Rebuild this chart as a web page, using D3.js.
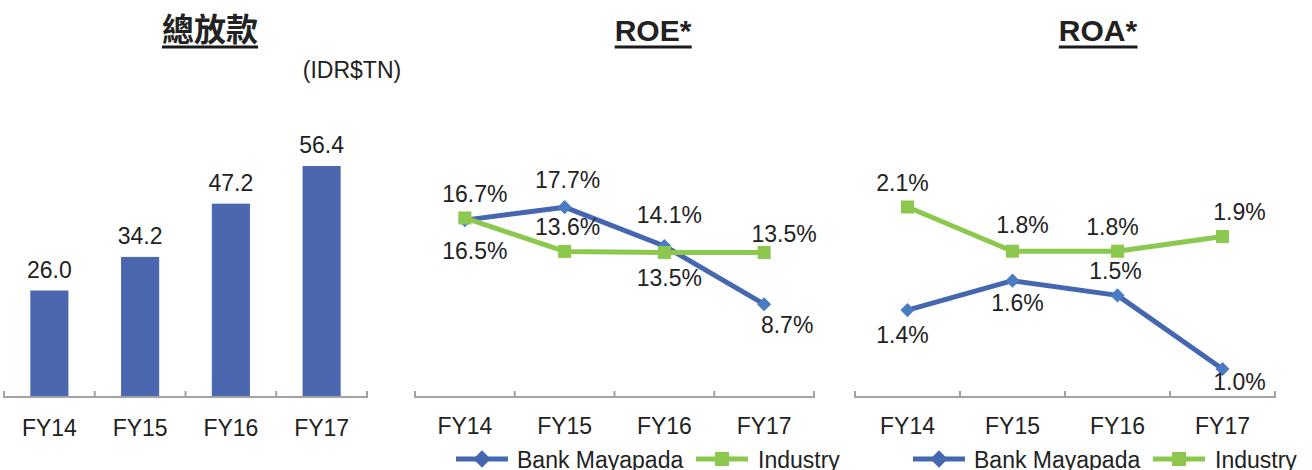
<!DOCTYPE html>
<html>
<head>
<meta charset="utf-8">
<script src="https://cdn.jsdelivr.net/npm/d3@7"></script>
<style>
  html, body { margin: 0; padding: 0; background: #ffffff; }
  svg { display: block; }
  text { font-family: "Liberation Sans", Arial, sans-serif; fill: #222222; }
</style>
</head>
<body>
<svg id="chart" width="1312" height="470"></svg>
<script>
// ---- data ----
const years = ["FY14", "FY15", "FY16", "FY17"];
const loans = [26.0, 34.2, 47.2, 56.4];
const roeBank = [16.5, 17.7, 14.1, 8.7];
const roeIndustry = [16.7, 13.6, 13.5, 13.5];
const roaBank = [1.4, 1.6, 1.5, 1.0];
const roaIndustry = [2.1, 1.8, 1.8, 1.9];
const seriesNames = ["Bank Mayapada", "Industry"];

// ---- styles ----
const BAR = "#4A67AF";
const BLUE = "#4566B0";
const BLUE_MARK = "#4A7CC2";
const GREEN = "#8DC84E";
const AXIS = "#A3A3A3";
const FONT = 23;

const svg = d3.select("#chart");

// square symbol turned 45 degrees gives an even diamond
const diamond = area => d3.symbol(d3.symbolSquare, area)();

function title(txt, cx, y, size, family) {
  const t = svg.append("text")
    .attr("x", cx).attr("y", y)
    .attr("text-anchor", "middle")
    .attr("font-size", size)
    .attr("font-weight", "bold")
    .text(txt);
  if (family) t.style("font-family", family);
  const b = t.node().getBBox();
  svg.append("rect")
    .attr("x", b.x).attr("y", 45.5)
    .attr("width", b.width).attr("height", 3)
    .attr("fill", "#1a1a1a");
}

// category axis with upward boundary ticks
function catAxis(x0, x1, y, n) {
  const g = svg.append("g");
  g.append("line").attr("x1", x0).attr("x2", x1).attr("y1", y).attr("y2", y)
    .attr("stroke", AXIS).attr("stroke-width", 2);
  const s = d3.scaleLinear().domain([0, n]).range([x0, x1]);
  g.selectAll("line.tk").data(d3.range(n + 1)).join("line").attr("class", "tk")
    .attr("x1", d => s(d)).attr("x2", d => s(d))
    .attr("y1", y - 6).attr("y2", y + 1)
    .attr("stroke", AXIS).attr("stroke-width", 2);
}

// ---- panel 1: total loans ----
{
  const x0 = 4, x1 = 367, base = 397;
  const x = d3.scaleBand().domain(years).range([x0, x1]).paddingInner(0.58).paddingOuter(0.29);
  const y = d3.scaleLinear().domain([0, 60]).range([base, base - 60 * 4.096]);

  title("總放款", 210, 41, 32, "'Noto Sans CJK TC', 'Noto Sans CJK SC', sans-serif");
  svg.append("text").attr("x", 352).attr("y", 78).attr("text-anchor", "middle")
    .attr("font-size", FONT).text("(IDR$TN)");

  svg.selectAll("rect.bar").data(loans).join("rect").attr("class", "bar")
    .attr("x", (d, i) => x(years[i]))
    .attr("y", d => y(d))
    .attr("width", x.bandwidth())
    .attr("height", d => base - y(d))
    .attr("fill", BAR);

  svg.selectAll("text.bv").data(loans).join("text").attr("class", "bv")
    .attr("x", (d, i) => x(years[i]) + x.bandwidth() / 2)
    .attr("y", d => y(d) - 13)
    .attr("text-anchor", "middle").attr("font-size", FONT)
    .text(d => d.toFixed(1));

  catAxis(x0, x1, base, years.length);

  svg.selectAll("text.bx").data(years).join("text").attr("class", "bx")
    .attr("x", d => x(d) + x.bandwidth() / 2)
    .attr("y", 436).attr("text-anchor", "middle").attr("font-size", FONT)
    .text(d => d);
}

// ---- line panels ----
function linePanel(opt) {
  const base = 397;
  const x = d3.scalePoint().domain(years).range([opt.x0, opt.x1]).padding(0.5);
  const y = d3.scaleLinear().domain(opt.domain).range([opt.r0, opt.r1]);

  title(opt.name, opt.titleX, 41, 30);
  catAxis(opt.x0, opt.x1, base, years.length);

  svg.selectAll(null).data(years).join("text")
    .attr("x", d => x(d)).attr("y", 434)
    .attr("text-anchor", "middle").attr("font-size", FONT).text(d => d);

  const line = d3.line().x((d, i) => x(years[i])).y(d => y(d));

  // bank line + diamonds
  svg.append("path").datum(opt.bank).attr("d", line)
    .attr("fill", "none").attr("stroke", BLUE).attr("stroke-width", 5)
    .attr("stroke-linejoin", "round");
  svg.selectAll(null).data(opt.bank).join("path")
    .attr("d", diamond(100))
    .attr("transform", (d, i) => `translate(${x(years[i])},${y(d)}) rotate(45)`)
    .attr("fill", BLUE_MARK);

  // industry line + squares
  svg.append("path").datum(opt.ind).attr("d", line)
    .attr("fill", "none").attr("stroke", GREEN).attr("stroke-width", 5)
    .attr("stroke-linejoin", "round");
  svg.selectAll(null).data(opt.ind).join("rect")
    .attr("x", (d, i) => x(years[i]) - 6.5)
    .attr("y", d => y(d) - 6.5)
    .attr("width", 13).attr("height", 13)
    .attr("fill", GREEN);

  // value labels
  const lab = (vals, offs) => svg.selectAll(null).data(vals).join("text")
    .attr("x", (d, i) => x(years[i]) + offs[i][0])
    .attr("y", (d, i) => y(d) + offs[i][1])
    .attr("text-anchor", "middle").attr("font-size", FONT)
    .text(d => d.toFixed(1) + "%");
  lab(opt.bank, opt.bankOff);
  lab(opt.ind, opt.indOff);

  // legend
  const ly = 459;
  const lg = svg.append("g");
  lg.append("line").attr("x1", opt.legX).attr("x2", opt.legX + 52)
    .attr("y1", ly).attr("y2", ly).attr("stroke", BLUE).attr("stroke-width", 5);
  lg.append("path").attr("d", diamond(150))
    .attr("transform", `translate(${opt.legX + 26},${ly}) rotate(45)`).attr("fill", BLUE);
  lg.append("text").attr("x", opt.legX + 61).attr("y", 468)
    .attr("font-size", FONT).text(seriesNames[0]);
  const gx = opt.legX + 240;
  lg.append("line").attr("x1", gx).attr("x2", gx + 52)
    .attr("y1", ly).attr("y2", ly).attr("stroke", GREEN).attr("stroke-width", 5);
  lg.append("rect").attr("x", gx + 26 - 7).attr("y", ly - 7)
    .attr("width", 14).attr("height", 14).attr("fill", GREEN);
  lg.append("text").attr("x", gx + 62).attr("y", 468)
    .attr("font-size", FONT).text(seriesNames[1]);
}

linePanel({
  name: "ROE*", titleX: 653,
  x0: 415, x1: 814,
  domain: [0, 20], r0: 398, r1: 398 - 20 * 10.78,
  bank: roeBank, ind: roeIndustry,
  bankOff: [[10, 39], [3, -19], [5, -23], [23, 29]],
  indOff: [[10, -16], [3, -16], [5, 34], [20, -10]],
  legX: 456
});

linePanel({
  name: "ROA*", titleX: 1098,
  x0: 855, x1: 1275,
  domain: [0.8, 2.2], r0: 398.5, r1: 398.5 - 1.4 * 147.3,
  bank: roaBank, ind: roaIndustry,
  bankOff: [[-5, 33], [5, 30], [-2, -16], [17, 21]],
  indOff: [[-5, -16], [10, -18], [-5, -16], [17, -16]],
  legX: 913
});
</script>
</body>
</html>
